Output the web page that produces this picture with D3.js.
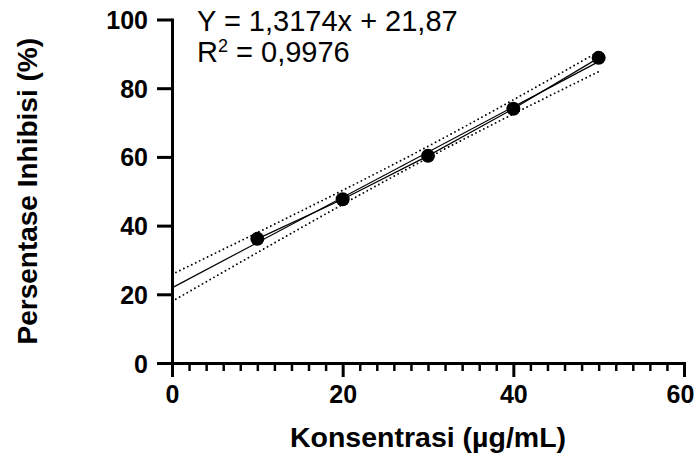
<!DOCTYPE html>
<html>
<head>
<meta charset="utf-8">
<script src="https://cdn.jsdelivr.net/npm/d3@7"></script>
<style>
  html, body { margin: 0; padding: 0; background: #fff; }
  svg { display: block; font-family: "Liberation Sans", Arial, Helvetica, sans-serif; }
</style>
</head>
<body>
<svg id="chart" width="696" height="456"></svg>
<script>
// ---- data ----
const concentrations = [10, 20, 30, 40, 50];
const inhibition = [36.14, 47.67, 60.30, 74.02, 88.83];
const xTicks = [0, 20, 40, 60];
const xMinorTicks = d3.range(0, 61, 2);
const yTicks = [0, 20, 40, 60, 80, 100];
const equationText = "Y = 1,3174x + 21,87";
const r2Text = "0,9976";
const xTitle = "Konsentrasi (µg/mL)";
const yTitle = "Persentase Inhibisi (%)";

// ---- layout ----
const svg = d3.select("#chart");
const x = d3.scaleLinear().domain([0, 60]).range([172, 684]);
const y = d3.scaleLinear().domain([0, 100]).range([363, 19.5]);

// ---- regression from data ----
const n = concentrations.length;
const mx = d3.mean(concentrations), my = d3.mean(inhibition);
const sxx = d3.sum(concentrations, v => (v - mx) ** 2);
const sxy = d3.sum(concentrations, (v, i) => (v - mx) * (inhibition[i] - my));
const slope = sxy / sxx, intercept = my - slope * mx;
const sse = d3.sum(concentrations, (v, i) => (inhibition[i] - (intercept + slope * v)) ** 2);
const s = Math.sqrt(sse / (n - 2));
const tCrit = 3.182; // t(0.975, df=3)
const xs = d3.range(0, 50.01, 0.5);
const band = xs.map(v => {
  const fit = intercept + slope * v;
  const hw = tCrit * s * Math.sqrt(1 / n + (v - mx) ** 2 / sxx);
  return { x: v, lo: fit - hw, hi: fit + hw, fit };
});

const line = d3.line().x(d => x(d[0])).y(d => y(d[1]));

// confidence band (dotted)
[band.map(d => [d.x, d.hi]), band.map(d => [d.x, d.lo])].forEach(pts => {
  svg.append("path").datum(pts).attr("d", line)
    .attr("fill", "none").attr("stroke", "#000").attr("stroke-width", 1.9)
    .attr("stroke-dasharray", "0,4.4").attr("stroke-linecap", "round");
});

// regression line
svg.append("path").datum([[0, intercept], [50, intercept + slope * 50]]).attr("d", line)
  .attr("fill", "none").attr("stroke", "#000").attr("stroke-width", 1.2);

// connecting line
svg.append("path").datum(concentrations.map((v, i) => [v, inhibition[i]])).attr("d", line)
  .attr("fill", "none").attr("stroke", "#000").attr("stroke-width", 1.2);

// points
svg.append("g").selectAll("circle").data(concentrations).join("circle")
  .attr("cx", d => x(d)).attr("cy", (d, i) => y(inhibition[i])).attr("r", 7).attr("fill", "#000");

// ---- axes ----
const yAxis = svg.append("g").attr("transform", `translate(${x(0)},0)`)
  .call(d3.axisLeft(y).tickValues(yTicks).tickSize(15).tickPadding(9).tickSizeOuter(0));
const xMinor = svg.append("g").attr("transform", `translate(0,${y(0)})`)
  .call(d3.axisBottom(x).tickValues(xMinorTicks.filter(v => v % 20 !== 0)).tickSize(8).tickFormat("").tickSizeOuter(0));
const xAxis = svg.append("g").attr("transform", `translate(0,${y(0)})`)
  .call(d3.axisBottom(x).tickValues(xTicks).tickSize(14).tickPadding(8).tickSizeOuter(0));

[yAxis, xAxis, xMinor].forEach(g => {
  g.select(".domain").attr("stroke", "#000").attr("stroke-width", 3).attr("stroke-linecap", "square");
  g.selectAll(".tick line").attr("stroke", "#000").attr("stroke-width", 3);
  g.selectAll(".tick text").attr("fill", "#000").attr("font-size", 25).attr("font-weight", "bold")
    .attr("font-family", "'Liberation Sans', Arial, sans-serif");
});
xMinor.selectAll(".tick line").attr("stroke-width", 2.5);
xMinor.select(".domain").remove();
yAxis.selectAll(".tick text").attr("dy", "0.36em");
xAxis.selectAll(".tick text").attr("dy", "0.7em")
  .attr("dx", d => d === 60 ? -4 : 0);

// ---- titles ----
svg.append("text").attr("x", (x(0) + x(60)) / 2).attr("y", 447).attr("text-anchor", "middle")
  .attr("font-size", 28.5).attr("font-weight", "bold").text(xTitle);
svg.append("text").attr("transform", `translate(37,${(y(0) + y(100)) / 2}) rotate(-90)`)
  .attr("text-anchor", "middle").attr("font-size", 28).attr("font-weight", "bold").text(yTitle);

// equation
svg.append("text").attr("x", 197).attr("y", 31).attr("font-size", 29).text(equationText);
const r2 = svg.append("text").attr("x", 197).attr("y", 62).attr("font-size", 29);
r2.append("tspan").text("R");
r2.append("tspan").attr("font-size", 18).attr("dy", -10).text("2");
r2.append("tspan").attr("dy", 10).text(" = " + r2Text);
</script>
</body>
</html>
